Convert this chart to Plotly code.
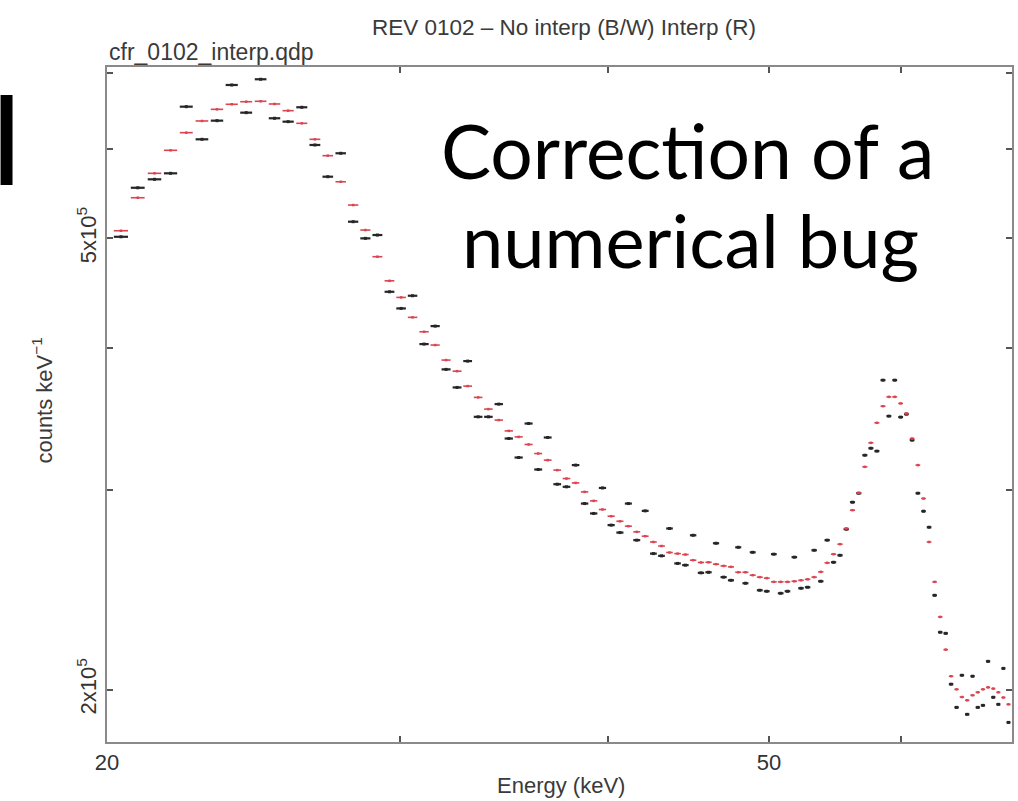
import math
import plotly.graph_objects as go

# Energy bin centres (keV)
energy = [20.39, 20.87, 21.36, 21.84, 22.32, 22.81, 23.29, 23.77, 24.25, 24.74,
          25.22, 25.70, 26.19, 26.67, 27.15, 27.64, 28.12, 28.60, 29.08, 29.57,
          30.05, 30.53, 31.02, 31.50, 31.98, 32.47, 32.95, 33.43, 33.91, 34.40,
          34.88, 35.36, 35.85, 36.33, 36.81, 37.30, 37.78, 38.26, 38.74, 39.23,
          39.71, 40.19, 40.68, 41.16, 41.64, 42.13, 42.61, 43.09, 43.57, 44.06,
          44.54, 45.02, 45.51, 45.99, 46.47, 46.96, 47.44, 47.92, 48.40, 48.89,
          49.37, 49.85, 50.34, 50.82, 51.30, 51.79, 52.27, 52.75, 53.23, 53.72,
          54.20, 54.68, 55.17, 55.65, 56.13, 56.62, 57.10, 57.58, 58.06, 58.55,
          59.03, 59.51, 60.00, 60.48, 60.96, 61.45, 61.93, 62.41, 62.89, 63.38,
          63.86, 64.34, 64.83, 65.31, 65.79, 66.28, 66.76, 67.24, 67.72, 68.21,
          68.69, 69.17, 69.66]

# Interpolated spectrum (red), counts keV^-1
interp = [507800, 543000, 570600, 597900, 619700, 634600, 649800, 656500, 659900, 660500,
          656900, 648000, 631600, 611400, 591400, 560900, 535000, 508500, 481700, 458700,
          443500, 425900, 413600, 402600, 390500, 381800, 370400, 362000, 353500, 345700,
          338200, 334100, 329000, 323000, 318700, 312300, 307000, 304300, 298800, 293400,
          288300, 284400, 281500, 278700, 275500, 273100, 269900, 267700, 264200, 263600,
          263100, 260100, 258900, 259000, 258000, 257100, 256600, 253800, 253800, 252300,
          251300, 250800, 248900, 248900, 248900, 249200, 249700, 250200, 251300, 254000,
          258700, 263300, 268700, 277400, 287900, 298200, 314400, 330100, 343800, 355600,
          362400, 362400, 357600, 350400, 333000, 315500, 294800, 269900, 248900, 231800,
          216900, 205500, 200100, 197000, 195700, 197700, 198900, 200100, 200900, 200400,
          198900, 196800, 194100]

# Non-interpolated spectrum (black), counts keV^-1
no_interp = [501600, 554100, 563700, 570600, 653300, 611400, 635000, 682700, 645400, 690700,
             638100, 633700, 652500, 604400, 566700, 594300, 517200, 500000, 503400, 448600,
             433700, 445000, 403400, 418400, 383200, 369400, 389700, 348000, 348000, 357100,
             333000, 320400, 343300, 312700, 333700, 303500, 301900, 315500, 291800, 286000,
             301200, 279300, 275100, 291800, 270900, 287500, 263600, 262400, 277400, 258400,
             257500, 273600, 253500, 253800, 269200, 251300, 249700, 267000, 248200, 264300,
             244700, 244200, 263300, 243200, 244200, 261700, 245700, 246200, 265400, 249200,
             270900, 259000, 262700, 277000, 292600, 298000, 321900, 326500, 324600, 374900,
             348500, 374900, 347800, 349900, 331900, 298000, 287300, 278100, 242200, 224700,
             224200, 202200, 192900, 205900, 190200, 205500, 192900, 193700, 211800, 196900,
             194100, 208800, 187100]

x_tick_vals = [20, 50]
x_tick_text = ["20", "50"]
x_minor_vals = [30, 40, 60]
y_tick_vals = [2e5, 5e5]
y_tick_text = ["2x10<sup>5</sup>", "5x10<sup>5</sup>"]
y_minor_vals = [3e5, 4e5, 6e5, 7e5]

TEXT_FONT = "Liberation Sans, Arial, Helvetica, sans-serif"

fig = go.Figure()
fig.add_trace(go.Scatter(
    x=energy, y=no_interp, mode="markers",
    marker=dict(size=3, color="#262626", symbol="square"),
    error_x=dict(type="constant", value=0.2, width=0, thickness=2.2, color="#262626"),
    name="No interp", hoverinfo="x+y"))
fig.add_trace(go.Scatter(
    x=energy, y=interp, mode="markers",
    marker=dict(size=2.5, color="#dc4450", symbol="square"),
    error_x=dict(type="constant", value=0.2, width=0, thickness=1.6, color="#dc4450"),
    name="Interp", hoverinfo="x+y"))

axis_common = dict(
    type="log", showgrid=False, zeroline=False, showline=True,
    linecolor="#8a8a8a", linewidth=2, mirror="ticks",
    ticks="inside", ticklen=6, tickwidth=1.5, tickcolor="#555",
    tickfont=dict(family=TEXT_FONT, size=22, color="#333"),
)

fig.update_layout(
    width=1018, height=801,
    margin=dict(l=107, r=4, t=67, b=59),
    paper_bgcolor="white", plot_bgcolor="white",
    showlegend=False,
    font=dict(family=TEXT_FONT, size=22, color="#333"),
    xaxis=dict(axis_common, range=[math.log10(20), math.log10(70)],
               tickvals=x_tick_vals, ticktext=x_tick_text,
               minor=dict(tickvals=x_minor_vals, ticks="inside", ticklen=6,
                          tickwidth=1.5, tickcolor="#555")),
    yaxis=dict(axis_common, range=[5.2548, 5.8501],
               tickvals=y_tick_vals, ticktext=y_tick_text, tickangle=-90,
               minor=dict(tickvals=y_minor_vals, ticks="inside", ticklen=6,
                          tickwidth=1.5, tickcolor="#555")),
)

annotations = [
    dict(text="REV 0102 – No interp (B/W) Interp (R)", x=0.505, y=1.058,
         xref="paper", yref="paper", xanchor="center", yanchor="middle",
         showarrow=False, font=dict(family=TEXT_FONT, size=22.5, color="#3a3a3a")),
    dict(text="cfr_0102_interp.qdp", x=0.0, y=1.022,
         xref="paper", yref="paper", xanchor="left", yanchor="middle",
         showarrow=False, font=dict(family=TEXT_FONT, size=23, color="#3a3a3a")),
    dict(text="counts keV<sup>−1</sup>", x=-0.0713, y=0.5065, textangle=-90,
         xref="paper", yref="paper", xanchor="center", yanchor="middle",
         showarrow=False, font=dict(family=TEXT_FONT, size=22, color="#3a3a3a")),
    dict(text="Energy (keV)", x=0.502, y=-0.064,
         xref="paper", yref="paper", xanchor="center", yanchor="middle",
         showarrow=False, font=dict(family=TEXT_FONT, size=22, color="#3a3a3a")),
    dict(text="Correction of a", x=0.6418, y=0.877,
         xref="paper", yref="paper", xanchor="center", yanchor="middle",
         showarrow=False, font=dict(family="Lato, Open Sans, sans-serif", size=75, color="black")),
    dict(text="numerical bug", x=0.6451, y=0.745,
         xref="paper", yref="paper", xanchor="center", yanchor="middle",
         showarrow=False, font=dict(family="Lato, Open Sans, sans-serif", size=74, color="black")),
]
fig.update_layout(annotations=annotations)

# black block at the far left edge of the slide
fig.add_shape(type="rect", xref="paper", yref="paper",
              x0=-0.1176, x1=-0.1044, y0=0.8251, y1=0.9585,
              fillcolor="black", line=dict(width=0), layer="above")

fig.write_html("out.html",
               config={"displayModeBar": False},
               post_script="document.body.style.margin='0';document.body.style.overflow='hidden';")
